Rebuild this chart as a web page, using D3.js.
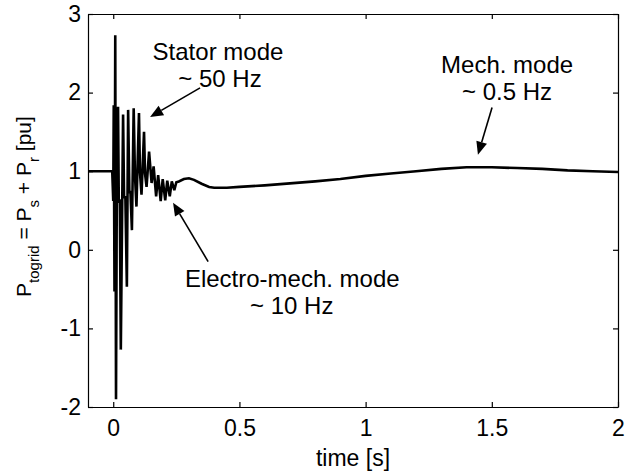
<!DOCTYPE html>
<html>
<head>
<meta charset="utf-8">
<script src="https://cdn.jsdelivr.net/npm/d3@7"></script>
<style>
  html, body { margin: 0; padding: 0; background: #fff; }
  svg text { font-family: "Liberation Sans", Arial, Helvetica, sans-serif; fill: #000; }
</style>
</head>
<body>
<svg id="chart" width="633" height="473"></svg>
<script>
// ---- data ----
const timeS = [-0.1, -0.004, 0.000, 0.002, 0.005, 0.008, 0.011, 0.014, 0.016, 0.019, 0.022, 0.026, 0.030,
  0.039, 0.043, 0.048, 0.054, 0.059, 0.064, 0.068, 0.074, 0.081, 0.086, 0.092, 0.102, 0.106, 0.112,
  0.122, 0.126, 0.132, 0.142, 0.152, 0.160, 0.170, 0.178,
  0.188, 0.196, 0.206, 0.214, 0.224, 0.232, 0.242, 0.250, 0.26, 0.28, 0.30, 0.32, 0.35,
  0.38, 0.40, 0.45, 0.5, 0.6, 0.7, 0.8, 0.9, 1.0, 1.1, 1.2, 1.3, 1.4, 1.5, 1.6, 1.7,
  1.8, 1.9, 2.0];
const pToGrid = [1.0, 1.0, 0.62, 1.84, -0.53, 2.73, -1.9, 0.62, 0.60, 1.82, 0.62, 0.64, -1.27,
  1.72, 0.66, 0.68, -0.47, 1.78, 0.72, 0.75, 0.25, 1.80, 0.95, 0.55, 1.74, 0.98, 0.70,
  1.50, 0.97, 0.80, 1.25, 0.85, 1.06, 0.68, 0.95,
  0.62, 0.90, 0.63, 0.88, 0.68, 0.87, 0.76, 0.86, 0.87, 0.90, 0.91, 0.89, 0.84,
  0.80, 0.79, 0.79, 0.80, 0.82, 0.845, 0.87, 0.90, 0.94, 0.97, 1.00, 1.03, 1.05, 1.05, 1.04, 1.03,
  1.01, 1.00, 0.99];
const xTicks = [0, 0.5, 1, 1.5, 2];
const xTickLabels = ["0", "0.5", "1", "1.5", "2"];
const yTicks = [-2, -1, 0, 1, 2, 3];
const yTickLabels = ["-2", "-1", "0", "1", "2", "3"];
const annoLines = [["Stator mode", "~ 50 Hz"], ["Electro-mech. mode", "~ 10 Hz"], ["Mech. mode", "~ 0.5 Hz"]];

// ---- layout ----
const svg = d3.select("#chart");
const L = 88, R = 618, T = 14, B = 407;
const x = d3.scaleLinear().domain([-0.1, 2]).range([L, R]);
const y = d3.scaleLinear().domain([-2, 3]).range([B, T]);

// data line
const line = d3.line().x((d, i) => x(timeS[i])).y(d => y(d));
svg.append("path")
  .datum(pToGrid)
  .attr("d", line)
  .attr("fill", "none")
  .attr("stroke", "#000")
  .attr("stroke-width", 2.6)
  .attr("stroke-linejoin", "miter")
  .attr("stroke-miterlimit", 2);

// axes (MATLAB-like box, ticks inside)
const fs = 23;
const axB = svg.append("g").attr("transform", `translate(0,${B})`)
  .call(d3.axisBottom(x).tickValues(xTicks).tickFormat((d, i) => xTickLabels[i]).tickSizeInner(-5).tickSizeOuter(0).tickPadding(13));
const axT = svg.append("g").attr("transform", `translate(0,${T})`)
  .call(d3.axisTop(x).tickValues(xTicks).tickFormat("").tickSizeInner(-5).tickSizeOuter(0));
const axL = svg.append("g").attr("transform", `translate(${L},0)`)
  .call(d3.axisLeft(y).tickValues(yTicks).tickFormat((d, i) => yTickLabels[i]).tickSizeInner(-5).tickSizeOuter(0).tickPadding(7));
const axR = svg.append("g").attr("transform", `translate(${R},0)`)
  .call(d3.axisRight(y).tickValues(yTicks).tickFormat("").tickSizeInner(-5).tickSizeOuter(0));
[axB, axT, axL, axR].forEach(g => {
  g.select(".domain").attr("stroke", "#000").attr("stroke-width", 1.2);
  g.selectAll(".tick line").attr("stroke", "#000").attr("stroke-width", 1.2);
  g.selectAll("text").attr("font-size", fs).attr("font-family", "Liberation Sans, Arial, sans-serif").attr("fill", "#000");
});

// axis labels
svg.append("text").attr("x", x(0.95)).attr("y", 466).attr("text-anchor", "middle")
  .attr("font-size", fs).text("time [s]");

const yl = svg.append("text")
  .attr("transform", `translate(31,${y(0.55)}) rotate(-90)`)
  .attr("text-anchor", "middle").attr("font-size", 21);
yl.append("tspan").text("P");
yl.append("tspan").attr("font-size", 15).attr("dy", 8).text("togrid");
yl.append("tspan").attr("dy", -8).text(" = P");
yl.append("tspan").attr("font-size", 15).attr("dy", 8).text("s");
yl.append("tspan").attr("dy", -8).text(" + P");
yl.append("tspan").attr("font-size", 15).attr("dy", 8).text("r");
yl.append("tspan").attr("dy", -8).text(" [pu]");

// annotations (positions in data units)
const afs = 24;
const annoText = [
  {t: 0.415, v: 2.42, anchor: "middle", lines: annoLines[0], dx2: 0.008},
  {t: 0.284, v: -0.47, anchor: "start", lines: annoLines[1], dx2: 0.258},
  {t: 1.299, v: 2.25, anchor: "start", lines: annoLines[2], dx2: 0.083}
];
annoText.forEach(a => {
  svg.append("text").attr("x", x(a.t)).attr("y", y(a.v)).attr("text-anchor", a.anchor)
    .attr("font-size", afs).text(a.lines[0]);
  svg.append("text").attr("x", x(a.t + a.dx2)).attr("y", y(a.v) + 27).attr("text-anchor", a.anchor)
    .attr("font-size", afs).text(a.lines[1]);
});

const arrows = [
  {t0: 0.344, v0: 2.06, t1: 0.146, v1: 1.69},
  {t0: 0.376, v0: -0.15, t1: 0.237, v1: 0.60},
  {t0: 1.501, v0: 1.81, t1: 1.445, v1: 1.21}
];
arrows.forEach(a => {
  const x0 = x(a.t0), y0 = y(a.v0), x1 = x(a.t1), y1 = y(a.v1);
  const ang = Math.atan2(y1 - y0, x1 - x0);
  const hl = 13, hw = 5.5;
  const bx = x1 - hl * Math.cos(ang), by = y1 - hl * Math.sin(ang);
  svg.append("line").attr("x1", x0).attr("y1", y0).attr("x2", bx).attr("y2", by)
    .attr("stroke", "#000").attr("stroke-width", 1.6);
  const px = -Math.sin(ang) * hw, py = Math.cos(ang) * hw;
  svg.append("path")
    .attr("d", `M${x1},${y1}L${bx + px},${by + py}L${bx - px},${by - py}Z`)
    .attr("fill", "#000");
});
</script>
</body>
</html>
